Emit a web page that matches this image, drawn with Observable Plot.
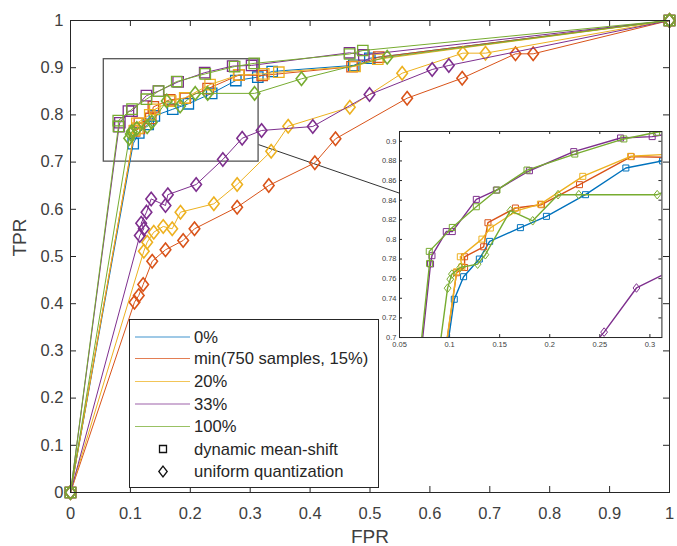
<!DOCTYPE html>
<html><head><meta charset="utf-8">
<script src="https://cdn.jsdelivr.net/npm/d3@7"></script>
<script src="https://cdn.jsdelivr.net/npm/@observablehq/plot@0.6"></script>
<style>
body{margin:0;background:#fff;}
#chart{position:relative;width:677px;height:546px;font-family:"Liberation Sans",Arial,sans-serif;}
#chart svg{position:absolute;}
</style></head><body><div id="chart"></div>
<script>
// ---- data ----
const settings = ["0%", "min(750 samples, 15%)", "20%", "33%", "100%"];
const methods = ["dynamic mean-shift", "uniform quantization"];
const colors = ["#0072BD", "#D95319", "#EDB120", "#7E2F8E", "#77AC30"];

const mainTicks = [0, 0.1, 0.2, 0.3, 0.4, 0.5, 0.6, 0.7, 0.8, 0.9, 1];
const insetXTicks = [0.05, 0.1, 0.15, 0.2, 0.25, 0.3];
const insetYTicks = [0.7, 0.72, 0.74, 0.76, 0.78, 0.8, 0.82, 0.84, 0.86, 0.88, 0.9];
const insetXDomain = [0.05, 0.312];
const insetYDomain = [0.7, 0.91];
// zoom rectangle, inset placement and connector, in main-axis data units
const zoomRect = {x1: 0.0556, x2: 0.314, y1: 0.701, y2: 0.918};
const insetBox = {x1: 0.5497, x2: 0.9878, y1: 0.329, y2: 0.7655};
const connector = {x1: 0.314, y1: 0.737, x2: 0.5497, y2: 0.634};

// dynamic mean-shift (squares): [FPR, TPR]
const dms0 = [[0,0],[0.1047,0.739],[0.114,0.762],[0.1297,0.780],[0.14,0.798],[0.1707,0.812],[0.1967,0.8235],[0.2357,0.8456],[0.276,0.8728],[0.3127,0.880],[0.3367,0.892],[0.473,0.905],[0.4997,0.920],[1,1]];
const dmsMin = [[0,0],[0.107,0.766],[0.115,0.7714],[0.115,0.7823],[0.134,0.7925],[0.1383,0.817],[0.1657,0.832],[0.1917,0.8354],[0.2297,0.8558],[0.2813,0.8844],[0.32,0.8835],[0.47,0.902],[0.5147,0.9223],[1,1]];
const dms20 = [[0,0],[0.107,0.767],[0.1123,0.772],[0.1107,0.7823],[0.1323,0.8003],[0.1407,0.8116],[0.1673,0.8293],[0.1907,0.836],[0.233,0.8643],[0.2807,0.8847],[0.3227,0.887],[0.3478,0.8905],[0.475,0.903],[0.513,0.918],[1,1]];
const dms33 = [[0,0],[0.081,0.775],[0.0824,0.7834],[0.0967,0.808],[0.1027,0.808],[0.1267,0.8408],[0.1467,0.8503],[0.1797,0.870],[0.224,0.8895],[0.2707,0.9034],[0.3023,0.9048],[0.4658,0.9316],[0.4897,0.927],[1,1]];
const dms100 = [[0,0],[0.080,0.7755],[0.0797,0.7878],[0.1027,0.8122],[0.1267,0.8333],[0.1473,0.8503],[0.1773,0.8707],[0.225,0.887],[0.274,0.9024],[0.3067,0.9092],[0.466,0.929],[0.488,0.9364],[1,1]];

// uniform quantization (diamonds): [FPR, TPR]
const uqMin = [[0,0],[0.1068,0.4032],[0.114,0.4174],[0.1213,0.4407],[0.1364,0.490],[0.1586,0.5142],[0.1881,0.5339],[0.207,0.5587],[0.2782,0.6045],[0.331,0.6504],[0.4079,0.6985],[0.4424,0.7493],[0.562,0.8354],[0.6539,0.8778],[0.7429,0.9294],[0.7724,0.9294],[1,1]];
const uq20 = [[0,0],[0.1224,0.5112],[0.128,0.5303],[0.139,0.5515],[0.1548,0.5636],[0.1698,0.5587],[0.1836,0.5939],[0.2393,0.6116],[0.2782,0.6525],[0.335,0.7232],[0.3634,0.776],[0.4663,0.8163],[0.5537,0.8884],[0.655,0.9308],[0.6928,0.9308],[1,1]];
const uq33 = [[0,0],[0.1157,0.5445],[0.1224,0.5587],[0.118,0.5706],[0.1269,0.594],[0.1347,0.622],[0.1586,0.608],[0.1625,0.631],[0.2098,0.6525],[0.2543,0.7055],[0.2866,0.7505],[0.319,0.767],[0.4045,0.7754],[0.4992,0.8432],[0.6038,0.8962],[0.6316,0.9047],[1,1]];
const uq100 = [[0,0],[0.098,0.7503],[0.1007,0.7595],[0.1023,0.7646],[0.1107,0.7714],[0.128,0.7748],[0.1357,0.7844],[0.1607,0.8293],[0.183,0.819],[0.2083,0.8456],[0.229,0.8456],[0.3073,0.8456],[0.3856,0.8764],[0.5287,0.9223],[1,1]];

const dmsSeries = [dms0, dmsMin, dms20, dms33, dms100];
const uqSeries = [null, uqMin, uq20, uq33, uq100];

// ---- symbols ----
const sqSym = {draw(ctx, size){const r=Math.sqrt(size/Math.PI); ctx.moveTo(-r,-r); ctx.lineTo(r,-r); ctx.lineTo(r,r); ctx.lineTo(-r,r); ctx.closePath();}};
const diaSym = {draw(ctx, size){const r=Math.sqrt(size/Math.PI), h=r*1.27; ctx.moveTo(0,-h); ctx.lineTo(r,0); ctx.lineTo(0,h); ctx.lineTo(-r,0); ctx.closePath();}};

function seriesMarks(pts, color, sym, r, sw, lw, clip){
  const data = pts.map(([fpr,tpr]) => ({fpr, tpr}));
  return [
    Plot.line(data, {x:"fpr", y:"tpr", stroke:color, strokeWidth:lw, clip}),
    Plot.dot(data, {x:"fpr", y:"tpr", stroke:color, fill:"none", symbol:sym, r, strokeWidth:sw, clip})
  ];
}
function allSeries(rSq, rDia, swSq, swDia, lw, clip){
  const m = [];
  dmsSeries.forEach((s,i) => m.push(...seriesMarks(s, colors[i], sqSym, rSq, swSq, lw, clip)));
  uqSeries.forEach((s,i) => { if (s) m.push(...seriesMarks(s, colors[i], diaSym, rDia, swDia, lw, clip)); });
  return m;
}
const fmt = d => String(+d.toFixed(2));
const axisColor = "#262626";
const textColor = "#404040";

// ---- main plot ----
const W = 677, H = 546, mL = 70, mR = 8, mT = 20, mB = 54;
const fw = W - mL - mR, fh = H - mT - mB, tk = 6;
const main = Plot.plot({
  width: W, height: H, marginLeft: mL, marginRight: mR, marginTop: mT, marginBottom: mB,
  style: {fontFamily: "Liberation Sans, Arial, sans-serif", fontSize: "16.5px", color: textColor, background: "transparent", overflow: "visible"},
  x: {domain: [0, 1]}, y: {domain: [0, 1]},
  marks: [
    Plot.ruleX(mainTicks, {x: d => d, insetTop: fh - tk, stroke: axisColor}),
    Plot.ruleX(mainTicks, {x: d => d, insetBottom: fh - tk, stroke: axisColor}),
    Plot.ruleY(mainTicks, {y: d => d, insetRight: fw - tk, stroke: axisColor}),
    Plot.ruleY(mainTicks, {y: d => d, insetLeft: fw - tk, stroke: axisColor}),
    Plot.axisX(mainTicks, {tickSize: 0, tickPadding: 15, tickFormat: fmt, label: null, fontSize: 16.5, fill: textColor}),
    Plot.axisY(mainTicks, {tickSize: 0, tickPadding: 7, tickFormat: fmt, label: null, fontSize: 16.5, fill: textColor}),
    Plot.text(["FPR"], {frameAnchor: "bottom", dy: 50, text: d => d, fontSize: 19, fill: textColor}),
    Plot.text(["TPR"], {frameAnchor: "left", dx: -51, rotate: -90, text: d => d, fontSize: 19, fill: textColor}),
    Plot.rect([zoomRect], {x1:"x1", x2:"x2", y1:"y1", y2:"y2", fill:"none", stroke:"#555", strokeWidth: 1.3}),
    Plot.link([connector], {x1:"x1", y1:"y1", x2:"x2", y2:"y2", stroke:"#333", strokeWidth: 1}),
    ...allSeries(5.2, 5.3, 1.3, 1.6, 1, false),
    Plot.frame({stroke: axisColor, strokeWidth: 1})
  ]
});
main.style.left = "0px"; main.style.top = "0px";
document.getElementById("chart").appendChild(main);

// ---- inset ----
const sx = main.scale("x"), sy = main.scale("y");
const px1 = sx.apply(insetBox.x1), px2 = sx.apply(insetBox.x2);
const pyTop = sy.apply(insetBox.y2), pyBot = sy.apply(insetBox.y1);
const iL = 34, iR = 2, iT = 2, iB = 18, itk = 3;
const ifw = px2 - px1, ifh = pyBot - pyTop;
const inset = Plot.plot({
  width: ifw + iL + iR, height: ifh + iT + iB, marginLeft: iL, marginRight: iR, marginTop: iT, marginBottom: iB,
  style: {fontFamily: "Liberation Sans, Arial, sans-serif", fontSize: "7.5px", color: textColor, background: "transparent", overflow: "visible"},
  x: {domain: insetXDomain}, y: {domain: insetYDomain},
  marks: [
    Plot.frame({fill: "white"}),
    Plot.ruleX(insetXTicks, {x: d => d, insetTop: ifh - itk, stroke: axisColor}),
    Plot.ruleX(insetXTicks, {x: d => d, insetBottom: ifh - itk, stroke: axisColor}),
    Plot.ruleY(insetYTicks, {y: d => d, insetRight: ifw - itk, stroke: axisColor}),
    Plot.ruleY(insetYTicks, {y: d => d, insetLeft: ifw - itk, stroke: axisColor}),
    Plot.axisX(insetXTicks, {tickSize: 0, tickPadding: 4, tickFormat: fmt, label: null, fontSize: 7.5, fill: textColor}),
    Plot.axisY(insetYTicks, {tickSize: 0, tickPadding: 3, tickFormat: fmt, label: null, fontSize: 7.5, fill: textColor}),
    ...allSeries(3, 3.4, 1, 1, 1.4, true),
    Plot.frame({stroke: axisColor, strokeWidth: 1})
  ]
});
inset.style.left = (px1 - iL) + "px"; inset.style.top = (pyTop - iT) + "px";
document.getElementById("chart").appendChild(inset);

// ---- legend ----
const lg = d3.select("#chart").append("svg")
  .attr("width", 251).attr("height", 170)
  .style("left", "129px").style("top", "319px");
lg.append("rect").attr("x", 0.5).attr("y", 0.5).attr("width", 249).attr("height", 168)
  .attr("fill", "white").attr("stroke", axisColor);
const rowY = [18, 39.5, 62.5, 85, 107.5, 130, 152.5];
settings.forEach((s, i) => {
  lg.append("line").attr("x1", 6).attr("x2", 61).attr("y1", rowY[i]).attr("y2", rowY[i])
    .attr("stroke", colors[i]).attr("stroke-opacity", 0.75).attr("stroke-width", 1.2);
  lg.append("text").attr("x", 65).attr("y", rowY[i]).attr("dy", "0.35em")
    .attr("font-size", 16.6).attr("fill", "#262626").text(s);
});
const sqPath = d3.symbol().type(sqSym).size(Math.PI * 3.5 * 3.5)();
const diaPath = d3.symbol().type(diaSym).size(Math.PI * 4.2 * 4.2)();
[sqPath, diaPath].forEach((p, j) => {
  const y = rowY[5 + j];
  lg.append("path").attr("d", p).attr("transform", `translate(34,${y})`)
    .attr("fill", "none").attr("stroke", "#111").attr("stroke-width", 1.3);
  lg.append("text").attr("x", 65).attr("y", y).attr("dy", "0.35em")
    .attr("font-size", 16.6).attr("fill", "#262626").text(methods[j]);
});
</script></body></html>
